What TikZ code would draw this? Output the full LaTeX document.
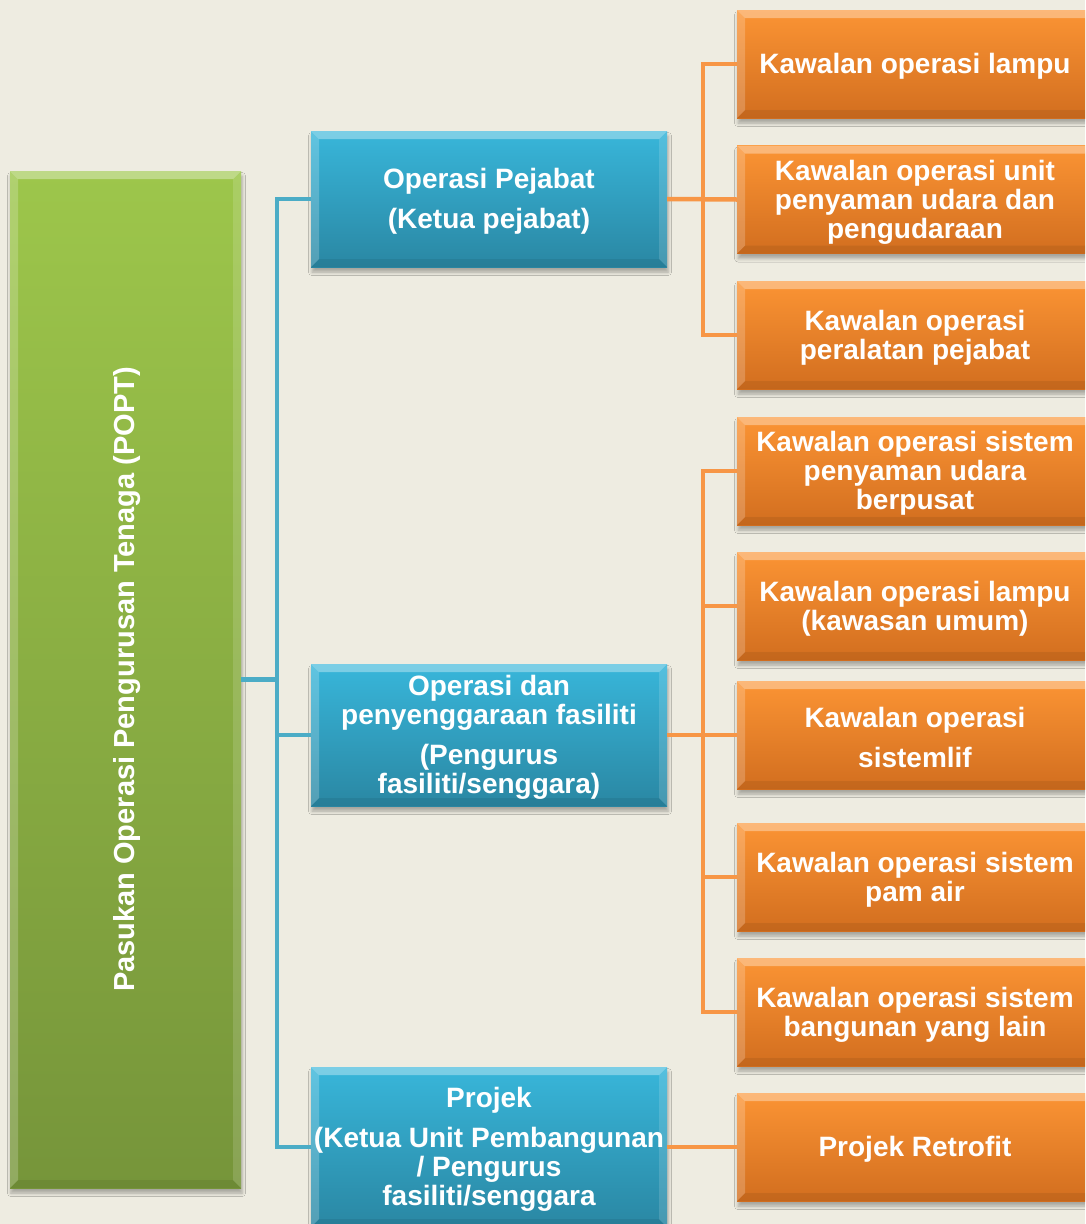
\documentclass[tikz,border=0pt]{standalone}
\usepackage{fontspec}
\setmainfont{Liberation Sans}
\usetikzlibrary{shadows.blur}

\definecolor{bg}{HTML}{EEECE1}
\definecolor{grntop}{HTML}{9DC64B}
\definecolor{grnbot}{HTML}{76953A}
\definecolor{blutop}{HTML}{38B6DA}
\definecolor{blubot}{HTML}{2A87A3}
\definecolor{orgtop}{HTML}{FB9434}
\definecolor{orgbot}{HTML}{D26E1F}
\definecolor{bluline}{HTML}{4BACC6}
\definecolor{orgline}{HTML}{F79646}

% bevelled faces drawn inside a box: light top/left/right, dark bottom
\newcommand\bevelfaces[1]{%
  \path (path picture bounding box.north west) coordinate (bNW)
        (path picture bounding box.north east) coordinate (bNE)
        (path picture bounding box.south west) coordinate (bSW)
        (path picture bounding box.south east) coordinate (bSE);
  \fill[white,opacity=0.34] (bNW) -- (bNE) -- ([xshift=-#1,yshift=-#1]bNE)
        -- ([xshift=#1,yshift=-#1]bNW) -- cycle;
  \fill[white,opacity=0.20] (bNW) -- ([xshift=#1,yshift=-#1]bNW)
        -- ([xshift=#1,yshift=#1]bSW) -- (bSW) -- cycle;
  \fill[white,opacity=0.14] (bNE) -- ([xshift=-#1,yshift=-#1]bNE)
        -- ([xshift=-#1,yshift=#1]bSE) -- (bSE) -- cycle;
  \fill[black,opacity=0.07] (bSW) -- ([xshift=#1,yshift=#1]bSW)
        -- ([xshift=-#1,yshift=#1]bSE) -- (bSE) -- cycle;
}
% extra height on the first line of a box text, to sit it a little lower
\newcommand\firstline{\rule{0pt}{25pt}}

\tikzset{
  txt/.style={text=white, font=\bfseries\fontsize{28}{29}\selectfont,
              align=center, inner sep=0pt},
  panel/.style={rectangle, inner sep=0pt, draw=none,
                path picture={\bevelfaces{8pt}},
                blur shadow={shadow xshift=1pt, shadow yshift=-5pt,
                             shadow blur radius=3.5pt, shadow opacity=30}},
  rootbox/.style={panel, shading=axis, top color=grntop, bottom color=grnbot,
                  minimum width=231pt, minimum height=1017pt},
  headbox/.style={panel, txt, shading=axis, top color=blutop, bottom color=blubot,
                  minimum width=356pt},
  taskbox/.style={panel, txt, shading=axis, top color=orgtop, bottom color=orgbot,
                  minimum width=356pt, minimum height=108pt},
  bluelink/.style={draw=bluline, line width=4.5pt},
  orangelink/.style={draw=orgline, line width=4.5pt},
}

\begin{document}
\begin{tikzpicture}[x=1pt, y=-1pt]
  \fill[bg] (0,0) rectangle (1085,1224);
  \useasboundingbox (0,0) rectangle (1085,1224);
  \clip (0,0) rectangle (1085,1224);

  % x positions of the two vertical buses
  \coordinate (trunk) at (277,0);
  \coordinate (bus) at (703,0);

  % root
  \node[rootbox] (popt) at (125.5,679.5) {};
  \node[txt, rotate=90, font=\bfseries\fontsize{29}{30}\selectfont]
    (poptlabel) at ([xshift=1.5pt]popt.center) {Pasukan Operasi Pengurusan Tenaga (POPT)};

  % second level
  \node[headbox, minimum height=136pt] (b1) at (489,199)
    {\firstline Operasi Pejabat\\[11pt](Ketua pejabat)};
  \node[headbox, minimum height=142pt] (b2) at (489,735)
    {\firstline Operasi dan\\penyenggaraan fasiliti\\[11pt](Pengurus\\fasiliti/senggara)};
  \node[headbox, minimum height=160pt] (b3) at (489,1147)
    {\firstline Projek\\[11pt](Ketua Unit Pembangunan\\/ Pengurus\\fasiliti/senggara};

  % third level
  \node[taskbox] (o1) at (915,64)    {\firstline Kawalan operasi lampu};
  \node[taskbox] (o2) at (915,199.5) {\firstline Kawalan operasi unit\\penyaman udara dan\\pengudaraan};
  \node[taskbox] (o3) at (915,335)   {\firstline Kawalan operasi\\peralatan pejabat};
  \node[taskbox] (o4) at (915,471)   {\firstline Kawalan operasi sistem\\penyaman udara\\berpusat};
  \node[taskbox] (o5) at (915,606)   {\firstline Kawalan operasi lampu\\(kawasan umum)};
  \node[taskbox] (o6) at (915,735)   {\firstline Kawalan operasi\\[11pt]sistemlif};
  \node[taskbox] (o7) at (915,877)   {\firstline Kawalan operasi sistem\\pam air};
  \node[taskbox] (o8) at (915,1012)  {\firstline Kawalan operasi sistem\\bangunan yang lain};
  \node[taskbox] (o9) at (915,1147)  {\firstline Projek Retrofit};

  % connectors
  \path[bluelink] (popt.east) -- (popt.east -| trunk);
  \path[bluelink] (b1.west) -- (b1.west -| trunk) -- (b3.west -| trunk) -- (b3.west);
  \path[bluelink] (b2.west -| trunk) -- (b2.west);

  \path[orangelink] (b1.east) -- (o2.west);
  \path[orangelink] (o1.west) -- (o1.west -| bus) -- (o3.west -| bus) -- (o3.west);
  \path[orangelink] (b2.east) -- (o6.west);
  \path[orangelink] (o4.west) -- (o4.west -| bus) -- (o8.west -| bus) -- (o8.west);
  \path[orangelink] (o5.west -| bus) -- (o5.west);
  \path[orangelink] (o7.west -| bus) -- (o7.west);
  \path[orangelink] (b3.east) -- (o9.west);
\end{tikzpicture}
\end{document}
